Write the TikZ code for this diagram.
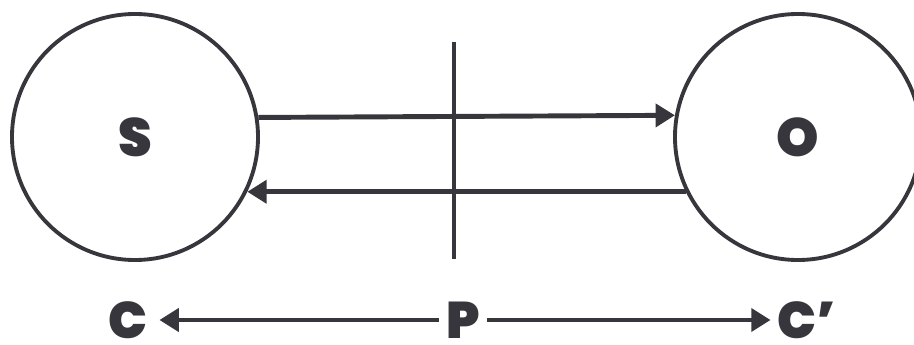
\documentclass[tikz,border=0pt]{standalone}
\usepackage{fontspec}
\setmainfont{Poppins}
\newfontfamily\heavyfont{Poppins Black}
\usetikzlibrary{arrows.meta,positioning}
\definecolor{inkgray}{RGB}{55,54,60}

\begin{document}
\begin{tikzpicture}[
        x=0.03cm, y=-0.03cm,
        party/.style={circle, draw=inkgray, line width=3.3pt, minimum size=7.38cm, inner sep=0pt,
            font=\fontsize{46}{46}\selectfont\heavyfont, text=inkgray},
        label/.style={inner sep=0pt, minimum width=1.45cm,
            font=\fontsize{44}{44}\selectfont\heavyfont, text=inkgray},
        arrow/.style={-{Triangle[length=0.58cm, width=0.68cm]}, line width=4.2pt, draw=inkgray}
    ]
        \useasboundingbox (0,0) rectangle (914,345);

        % Parties
        \node[party] (s) at (135,137) {S};
        \node[party] (o) at (798,137) {O};

        % Messages
        \draw[arrow] (s.9.4) -- (o.170.6);
        \draw[arrow] (o.206.6) -- (s.-26.6);

        % Divider
        \coordinate (dtop) at (454,42);
        \coordinate (dbot) at (454,259);
        \draw[inkgray, line width=4.2pt] (dtop) -- (dbot);

        % Bottom labels
        \node[label] (c) at (128,320) {C};
        \node[label] (p) at (463,320) {P};
        \node[label] (cp) at (807,320) {C’};
        \draw[arrow, shorten >=6] (p.west) -- (c.east);
        \draw[arrow, shorten >=6] (p.east) -- (cp.west);

    \end{tikzpicture}
\end{document}
